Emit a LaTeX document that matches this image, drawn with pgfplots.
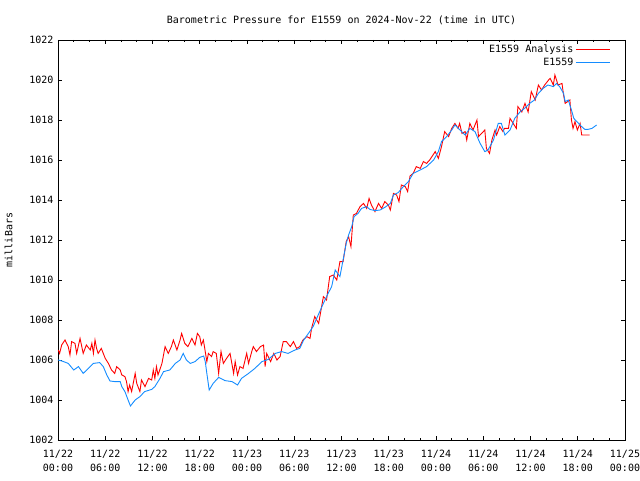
\documentclass[border=0pt]{standalone}
\usepackage{pgfplots}
\pgfplotsset{compat=1.18}
\usepackage{fontspec}
\setmainfont{DejaVu Sans Mono}
\definecolor{anared}{RGB}{255,0,0}
\definecolor{obsblue}{RGB}{20,140,255}
\begin{document}
\fontsize{10}{12}\selectfont
\begin{tikzpicture}
\useasboundingbox (-58pt,-40pt) rectangle (582pt,440pt);
\begin{axis}[
  at={(0pt,0pt)}, anchor=south west,
  scale only axis, width=567pt, height=400pt,
  xmin=0, xmax=72, ymin=1002, ymax=1022,
  xtick={0,6,...,72},
  xticklabels={{11/22\\00:00},{11/22\\06:00},{11/22\\12:00},{11/22\\18:00},{11/23\\00:00},{11/23\\06:00},{11/23\\12:00},{11/23\\18:00},{11/24\\00:00},{11/24\\06:00},{11/24\\12:00},{11/24\\18:00},{11/25\\00:00}},
  xticklabel style={align=center, font=\fontsize{10}{14}\selectfont, yshift=-7pt},
  yticklabel style={font=\fontsize{10}{12}\selectfont, xshift=-1pt},
  minor x tick num=2,
  ytick={1002,1004,...,1022},
  /pgf/number format/1000 sep={},
  /pgf/number format/assume math mode=true,
  tick align=inside,
  major tick length=4pt, minor tick length=2pt,
  tick style={black, line width=0.8pt},
  axis line style={black, line width=0.8pt},
  title={Barometric Pressure for E1559 on 2024-Nov-22 (time in UTC)},
  title style={yshift=6pt},
  ylabel={milliBars},
  ylabel style={yshift=10pt},
  legend style={draw=none, fill=none, at={(0.98,0.998)}, anchor=north east, cells={anchor=east}},
  legend plot pos=right,
]
\addlegendimage{anared, line width=1pt, legend image code/.code={\path (0pt,0pt) -- (6pt,0pt); \draw[anared, line width=1pt] (6pt,0pt) -- (34pt,0pt);}}
\addlegendentry{E1559 Analysis}
\addlegendimage{obsblue, line width=1pt, legend image code/.code={\path (0pt,0pt) -- (6pt,0pt); \draw[obsblue, line width=1pt] (6pt,0pt) -- (34pt,0pt);}}
\addlegendentry{E1559}
\addplot[anared, line width=0.9pt, forget plot] coordinates {
(0.04,1006.5) (0.2,1006.33) (0.47,1006.75) (0.89,1007.0) (1.3,1006.67) (1.52,1006.25) (1.73,1006.92) (2.16,1006.83) (2.37,1006.33) (2.8,1007.08)
(3.2,1006.33) (3.6,1006.75) (4.1,1006.5) (4.3,1006.83) (4.5,1006.33) (4.7,1007.0) (4.9,1006.58) (5.1,1006.33) (5.5,1006.58) (6.0,1006.08)
(6.4,1005.83) (6.8,1005.5) (7.2,1005.33) (7.45,1005.67) (7.9,1005.5) (8.1,1005.25) (8.5,1005.17) (8.7,1004.92) (8.9,1004.42) (9.1,1004.75)
(9.35,1004.42) (9.8,1005.33) (10.0,1004.83) (10.4,1004.42) (10.6,1005.0) (11.05,1004.67) (11.5,1005.08) (11.9,1005.0) (12.1,1005.5) (12.3,1005.08)
(12.5,1005.67) (12.7,1005.25) (13.2,1005.83) (13.6,1006.67) (14.0,1006.33) (14.4,1006.67) (14.65,1007.0) (15.1,1006.5) (15.5,1007.0) (15.7,1007.33)
(16.1,1006.83) (16.5,1006.67) (17.0,1007.08) (17.4,1006.75) (17.7,1007.33) (18.0,1007.17) (18.2,1006.75) (18.46,1007.0) (18.7,1006.42) (18.9,1005.92)
(19.1,1006.33) (19.5,1006.17) (19.7,1006.42) (20.1,1006.33) (20.4,1005.33) (20.7,1006.42) (21.0,1005.83) (21.4,1006.08) (21.85,1006.33) (22.3,1005.33)
(22.5,1005.92) (22.8,1005.25) (23.1,1005.67) (23.5,1005.58) (23.96,1006.33) (24.2,1005.83) (24.6,1006.42) (24.8,1006.67) (25.2,1006.42) (25.7,1006.67)
(26.1,1006.75) (26.3,1005.67) (26.5,1006.33) (27.0,1005.92) (27.4,1006.33) (27.8,1006.0) (28.2,1006.17) (28.6,1006.92) (29.0,1006.92) (29.5,1006.67)
(29.9,1006.92) (30.3,1006.58) (30.7,1006.67) (31.1,1007.0) (31.6,1007.17) (32.0,1007.08) (32.2,1007.58) (32.6,1008.17) (33.1,1007.83) (33.7,1009.17)
(34.1,1009.0) (34.5,1010.17) (34.96,1010.25) (35.4,1010.0) (35.8,1010.92) (36.2,1010.92) (36.6,1011.92) (36.9,1012.17) (37.2,1011.67) (37.5,1013.25)
(37.9,1013.33) (38.35,1013.67) (38.8,1013.83) (39.2,1013.58) (39.5,1014.08) (39.8,1013.75) (40.25,1013.42) (40.7,1013.83) (41.1,1013.58) (41.5,1013.92)
(41.95,1013.75) (42.2,1013.5) (42.6,1014.33) (43.0,1014.25) (43.3,1013.92) (43.6,1014.75) (44.1,1014.67) (44.4,1014.42) (44.7,1015.2) (45.1,1015.33)
(45.5,1015.67) (46.0,1015.58) (46.4,1015.92) (46.8,1015.83) (47.2,1016.0) (47.9,1016.42) (48.3,1016.08) (48.7,1016.67) (49.1,1017.42) (49.6,1017.17)
(50.0,1017.58) (50.4,1017.83) (50.8,1017.58) (51.0,1017.83) (51.3,1017.33) (51.7,1017.42) (51.9,1017.0) (52.3,1017.83) (52.7,1017.5) (53.2,1018.0)
(53.4,1017.17) (53.8,1017.33) (54.2,1017.5) (54.4,1016.58) (54.8,1016.33) (55.1,1017.0) (55.5,1017.5) (55.7,1017.25) (56.1,1017.67) (56.5,1017.42)
(56.7,1017.58) (57.2,1017.58) (57.4,1018.08) (57.8,1017.83) (58.2,1017.58) (58.4,1018.67) (58.9,1018.4) (59.3,1018.83) (59.7,1018.4) (60.1,1019.42)
(60.6,1019.0) (61.0,1019.75) (61.4,1019.5) (61.8,1019.75) (62.3,1020.0) (62.5,1020.08) (62.9,1019.75) (63.1,1020.25) (63.5,1019.75) (64.0,1019.83)
(64.2,1019.25) (64.4,1018.83) (65.0,1019.0) (65.2,1018.0) (65.4,1017.58) (65.65,1017.92) (65.95,1017.5) (66.3,1017.83) (66.5,1017.25) (67.1,1017.25)
(67.5,1017.25)
};
\addplot[obsblue, line width=0.9pt, forget plot] coordinates {
(0,1006.0) (0.5,1005.95) (1.3,1005.83) (2.0,1005.5) (2.6,1005.67) (3.2,1005.33) (3.85,1005.58) (4.5,1005.83) (5.3,1005.87) (5.75,1005.67)
(6.2,1005.25) (6.6,1004.95) (7.2,1004.92) (7.9,1004.92) (8.1,1004.67) (8.5,1004.42) (8.9,1004.0) (9.2,1003.7) (9.8,1004.0) (10.4,1004.17)
(11.0,1004.42) (11.9,1004.53) (12.3,1004.67) (12.95,1005.08) (13.4,1005.42) (14.2,1005.5) (14.9,1005.83) (15.5,1006.0) (15.9,1006.33) (16.3,1006.0)
(16.8,1005.83) (17.4,1005.92) (18.0,1006.13) (18.5,1006.2) (18.7,1005.92) (18.9,1005.33) (19.2,1004.5) (19.7,1004.83) (20.4,1005.13) (21.2,1004.97)
(22.1,1004.92) (22.8,1004.75) (23.3,1005.08) (24.2,1005.33) (25.0,1005.58) (25.9,1005.92) (26.7,1006.03) (27.6,1006.33) (28.4,1006.42) (29.2,1006.33)
(30.1,1006.5) (30.7,1006.58) (31.2,1007.0) (31.8,1007.33) (32.4,1007.67) (32.85,1008.08) (33.7,1008.83) (34.3,1009.33) (34.75,1009.67) (35.2,1010.5)
(35.8,1010.17) (36.2,1011.0) (36.6,1011.83) (36.9,1012.25) (37.3,1012.67) (37.6,1013.17) (38.1,1013.33) (38.55,1013.58) (39.2,1013.67) (39.6,1013.53)
(40.25,1013.47) (40.9,1013.5) (41.5,1013.63) (42.2,1013.83) (42.6,1014.25) (43.2,1014.37) (43.85,1014.67) (44.5,1014.92) (45.1,1015.33) (46.0,1015.5)
(46.8,1015.67) (47.7,1016.0) (48.3,1016.42) (48.7,1016.92) (49.35,1017.17) (50.0,1017.5) (50.4,1017.75) (51.05,1017.5) (51.7,1017.25) (52.3,1017.58)
(52.95,1017.42) (53.6,1016.83) (54.2,1016.42) (54.6,1016.5) (55.3,1017.0) (55.9,1017.83) (56.3,1017.83) (56.75,1017.25) (57.4,1017.5) (58.0,1018.08)
(58.7,1018.42) (59.3,1018.6) (59.9,1018.83) (60.5,1019.0) (61.0,1019.33) (61.6,1019.58) (62.2,1019.75) (62.9,1019.67) (63.3,1019.83) (63.7,1019.67)
(64.2,1019.33) (64.4,1018.92) (64.8,1019.0) (65.2,1018.5) (65.5,1018.08) (66.1,1017.83) (66.5,1017.67) (66.9,1017.53) (67.3,1017.53) (67.8,1017.58)
(68.4,1017.75)
};
\end{axis}
\end{tikzpicture}
\end{document}
